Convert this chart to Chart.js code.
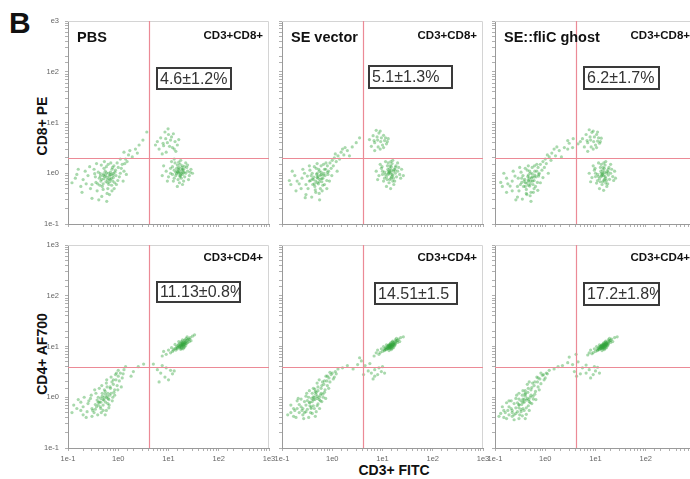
<!DOCTYPE html>
<html>
<head>
<meta charset="utf-8">
<script src="https://cdn.jsdelivr.net/npm/chart.js@4.4.1/dist/chart.umd.min.js"></script>
<style>
  html, body { margin: 0; padding: 0; background: #fff; width: 690px; height: 479px; overflow: hidden; position: relative;
    font-family: "Liberation Sans", Arial, sans-serif; }
  canvas { position: absolute; }
  .lbl { position: absolute; font-weight: bold; color: #111; white-space: nowrap; line-height: 1; }
  .rot { transform: translate(-50%, -50%) rotate(-90deg); }
  .ctr { transform: translate(-50%, -50%); }
</style>
</head>
<body>
<div class="lbl" style="left:9px;top:8px;font-size:30px;">B</div>
<div class="lbl rot" style="left:42px;top:126px;font-size:14px;">CD8+ PE</div>
<div class="lbl rot" style="left:42px;top:354px;font-size:14px;">CD4+ AF700</div>
<div class="lbl ctr" style="left:394px;top:470px;font-size:14px;">CD3+ FITC</div>

<script>
// ---- groups, gates and quadrant frequencies ----
const groupNames = ['PBS', 'SE vector', 'SE::fliC ghost'];
const cd8Quadrant = 'CD3+CD8+';
const cd4Quadrant = 'CD3+CD4+';
const cd8Pct = ['4.6±1.2%', '5.1±1.3%', '6.2±1.7%'];
const cd4Pct = ['11.13±0.8%', '14.51±1.5', '17.2±1.8%'];
const cd3Gate = 4;   // CD3 FITC threshold
const cd8Gate = 2;   // CD8 PE threshold
const cd4Gate = 4;   // CD4 AF700 threshold

// ---- log-axis decade labels ----
const decades = [0.1, 1, 10, 100, 1000];
const decadeLabels = ['1e-1', '1e0', '1e1', '1e2', '1e3'];
const cornerDecadeLabels = ['1e-1', '1e0', '1e1', '1e2', 'e3'];

// ---- events: [CD3 FITC, CD8 PE] ----
const pbsCD8 = [
  [0.6,0.83],[0.5,0.9],[0.7,0.75],[0.45,0.7],[0.8,1.0],[0.55,1.1],[0.65,0.6],[0.35,0.85],[0.9,0.9],[0.4,1.05],
  [0.75,1.2],[0.3,0.6],[0.25,0.9],[0.62,0.5],[1.0,1.3],[0.85,0.65],[0.48,0.55],[0.58,1.35],[0.2,0.75],[0.15,0.95],
  [0.38,0.45],[0.72,0.95],[0.95,1.6],[1.2,1.5],[0.52,0.78],[0.66,0.88],[0.44,0.98],[0.78,0.7],[0.33,1.2],[0.28,0.5],
  [0.6,0.4],[0.88,1.15],[1.1,1.0],[0.5,0.62],[0.42,0.8],[0.7,1.05],[0.56,0.92],[0.68,0.68],[0.8,0.82],[0.36,0.66],
  [0.12,0.65],[0.18,0.55],[0.22,1.1],[0.47,0.35],[0.75,0.45],[1.3,1.1],[0.98,0.72],[0.63,1.5],[0.52,1.25],[0.82,1.4],
  [0.14,0.8],[0.16,1.2],[0.19,0.42],[0.23,0.62],[0.27,1.35],[0.3,0.32],[0.34,0.98],[0.37,1.55],[0.41,0.3],[0.43,0.58],
  [0.46,1.45],[0.5,0.48],[0.53,1.7],[0.57,0.68],[0.59,0.28],[0.64,1.0],[0.67,0.38],[0.71,1.6],[0.74,0.58],[0.77,1.3],
  [0.83,0.5],[0.86,1.05],[0.92,0.6],[1.05,0.85],[1.15,1.25],[1.25,0.7],[1.35,1.55],[1.45,0.95],[0.61,0.74],[0.54,0.86],
  [0.69,0.93],[0.47,0.76],[0.39,0.62],[0.73,0.8],[0.58,1.02],[0.66,0.77],[0.51,0.97],[0.44,0.88],[0.79,0.92],[0.62,0.65],
  [1.4,1.9],[1.6,2.3],[1.3,2.6],[1.9,2.1],[1.1,1.9],[2.2,3.0],[1.7,2.8],[2.6,3.6],[3.1,4.5],[3.7,6.5],[2.4,2.5],[1.5,1.7],
  [17,1.05],[15,1.1],[19,0.95],[14,0.9],[20,1.2],[16,1.3],[18,0.8],[13,1.15],[22,1.0],[12,0.95],
  [17,1.5],[24,1.1],[15.5,0.75],[21,0.85],[11,1.25],[19,1.4],[16.5,0.65],[26,0.9],[10,0.85],[13.5,1.6],
  [18.5,1.15],[16,1.0],[14.5,1.25],[20,0.7],[23,1.3],[9,1.1],[28,1.2],[12.5,0.7],[17.5,1.8],[8,1.4],
  [15,0.55],[22,1.6],[11.5,1.7],[19.5,1.05],[16.8,0.9],[14,1.05],[25,0.75],[7.5,0.9],[30,1.0],[13,1.9],
  [16,1.15],[18,1.0],[17.5,0.92],[15.5,1.05],[19,1.2],[17,0.85],[14.5,0.98],[20.5,1.05],[16.2,1.22],[18.3,1.3],
  [13,0.8],[21,1.35],[15,1.45],[19,0.6],[11,1.0],[24,1.45],[12,1.35],[27,1.05],[9.5,0.7],[16,1.65],
  [9.5,4.0],[8,3.5],[11,4.5],[7,5.0],[12,3.2],[10,5.8],[6.5,3.0],[13.5,4.2],[8.5,6.5],[15,3.6],[9,2.6],[6,4.2],[11.5,5.2],[14,2.7],[7.5,2.4],
  [10.5,3.4],[8.8,4.8],[12.5,6.0],[7.8,3.9],[13,3.0],[16,4.6],[5.5,3.6],[9.8,7.5]
];
const vectorCD8 = [
  [0.5,0.83],[0.42,0.75],[0.6,0.95],[0.35,0.7],[0.55,1.1],[0.7,1.2],[0.3,0.6],[0.45,0.55],[0.65,0.8],[0.4,1.0],
  [0.25,0.8],[0.8,1.4],[0.5,0.65],[0.58,0.5],[0.38,0.9],[0.9,1.6],[0.2,0.7],[0.72,0.9],[0.48,1.25],[0.33,0.5],
  [0.62,0.68],[0.28,1.0],[0.85,1.1],[1.0,1.8],[0.55,0.4],[0.44,0.62],[0.68,1.0],[0.52,0.88],[0.4,0.78],[0.78,0.72],
  [0.15,0.6],[0.18,0.9],[0.3,0.38],[0.75,1.6],[0.95,1.25],[0.6,1.4],[0.36,1.15],[0.46,0.47],[0.24,0.5],[0.82,0.95],
  [1.1,2.0],[1.2,1.7],[0.65,0.58],[0.5,1.0],[0.57,0.76],
  [0.14,0.72],[0.16,1.1],[0.19,0.45],[0.22,0.62],[0.26,1.2],[0.29,0.33],[0.32,0.88],[0.35,1.4],[0.39,0.34],[0.41,0.6],
  [0.44,1.35],[0.47,0.42],[0.5,1.55],[0.53,0.62],[0.56,0.3],[0.6,1.05],[0.63,0.45],[0.67,1.5],[0.7,0.6],[0.74,1.2],
  [0.78,0.5],[0.8,1.05],[0.88,0.7],[0.98,0.9],[1.05,1.4],[1.25,1.1],[0.52,0.8],[0.47,0.7],[0.58,0.9],[0.43,0.84],
  [0.62,0.78],[0.55,0.68],[0.37,0.72],[0.66,0.92],[0.49,0.95],[0.54,1.2],
  [1.3,2.2],[1.5,2.6],[1.15,2.4],[1.7,2.3],[1.4,1.9],[2.0,2.8],[1.8,3.2],[2.5,3.3],[3.0,4.0],[2.2,2.2],[1.6,3.0],[3.5,5.0],
  [14.5,1.0],[13,1.1],[16,0.9],[12,0.85],[17,1.2],[15,1.35],[14,0.75],[11,1.05],[18,1.0],[10,0.95],
  [15.5,1.55],[20,1.1],[13.5,0.65],[16.5,0.8],[9.5,1.25],[12.5,1.4],[17.5,0.7],[22,0.95],[8.5,0.9],[11.5,1.7],
  [15,1.15],[13,0.95],[14,1.25],[18.5,1.4],[10.5,0.7],[19,0.85],[7.5,1.1],[24,1.2],[12,0.55],[16,1.8],
  [14.5,0.5],[9,1.5],[20,1.6],[13.8,1.05],[11,0.8],[26,0.9],[8,0.75],
  [14,1.1],[15.5,0.95],[15,0.85],[13.2,1.0],[16.5,1.1],[14.8,0.8],[12.8,1.2],[17.8,1.15],[14.2,1.4],[16,0.7],
  [11.5,0.95],[18,1.3],[13,1.6],[16.8,0.6],[10,1.1],[21,1.3],[9.8,1.35],[23,0.8],[12.4,0.75],[14.6,1.7],
  [8,4.5],[7,4.0],[9.5,5.0],[6.5,5.5],[10,3.6],[8.5,6.2],[6,3.4],[11,4.4],[7.5,7.0],[12,3.8],[9,3.0],[5.5,4.6],[10.5,5.6],[7,2.8],[13,4.8],
  [9.2,4.2],[7.8,5.2],[11.5,5.0],[6.8,4.4],[10.5,3.2],[12.5,4.2],[8.2,3.3],[9,6.8]
];
const ghostCD8 = [
  [0.46,0.73],[0.4,0.65],[0.55,0.85],[0.32,0.6],[0.5,1.0],[0.62,1.1],[0.28,0.55],[0.42,0.48],[0.6,0.72],[0.36,0.9],
  [0.22,0.7],[0.72,1.3],[0.46,0.58],[0.52,0.42],[0.34,0.8],[0.8,1.5],[0.18,0.62],[0.66,0.85],[0.44,1.15],[0.3,0.45],
  [0.57,0.6],[0.25,0.88],[0.76,1.0],[0.9,1.7],[0.5,0.36],[0.4,0.55],[0.62,0.92],[0.48,0.8],[0.38,0.7],[0.7,0.66],
  [0.14,0.55],[0.17,0.8],[0.28,0.34],[0.68,1.5],[0.86,1.15],[0.55,1.3],[0.33,1.05],[0.42,0.4],[0.22,0.45],[0.74,0.88],
  [1.0,1.9],[1.05,1.55],[0.6,0.5],[0.46,0.92],[0.52,0.7],
  [0.13,0.66],[0.15,1.0],[0.17,0.42],[0.2,0.56],[0.23,1.1],[0.26,0.3],[0.29,0.8],[0.31,1.3],[0.35,0.31],[0.37,0.55],
  [0.4,1.25],[0.43,0.38],[0.46,1.4],[0.49,0.56],[0.52,0.28],[0.55,0.98],[0.58,0.42],[0.61,1.4],[0.64,0.55],[0.68,1.1],
  [0.71,0.46],[0.74,0.95],[0.8,0.65],[0.9,0.82],[0.96,1.3],[1.15,1.0],[0.47,0.7],[0.43,0.64],[0.53,0.8],[0.39,0.76],
  [0.56,0.7],[0.5,0.62],[0.34,0.66],[0.6,0.84],[0.45,0.86],[0.49,1.1],
  [1.2,2.1],[1.35,2.5],[1.1,2.3],[1.6,2.2],[1.3,1.8],[1.9,2.8],[1.7,3.3],[2.4,3.2],[3.0,3.9],[2.1,2.1],[1.5,3.0],[3.6,4.8],[2.8,4.4],
  [14.5,0.9],[13,1.0],[16,0.8],[12,0.78],[17,1.1],[15,1.25],[14,0.68],[11,0.95],[18,0.92],[10,0.86],
  [15.5,1.45],[20,1.0],[13.5,0.6],[16.5,0.72],[9.5,1.15],[12.5,1.3],[17.5,0.62],[22,0.86],[8.5,0.82],[11.5,1.6],
  [15,1.05],[13,0.86],[14,1.15],[18.5,1.3],[10.5,0.64],[19,0.76],[7.5,1.0],[24,1.1],[12,0.5],[16,1.7],
  [14.5,0.46],[9,1.4],[20,1.5],[13.8,0.95],[11,0.72],[25,0.8],[8,0.68],
  [14,1.0],[15.5,0.86],[15,0.76],[13.2,0.9],[16.5,1.0],[14.8,0.72],[12.8,1.1],[17.8,1.05],[14.2,1.3],[16,0.64],
  [11.5,0.86],[18,1.2],[13,1.5],[16.8,0.55],[10,1.0],[21,1.2],[9.8,1.25],[23,0.72],[12.4,0.68],[14.6,1.6],
  [8,4.5],[7,4.0],[9.5,5.2],[6.5,5.8],[10,3.6],[8.5,6.4],[6,3.3],[11,4.3],[7.5,7.2],[12,3.9],[9,3.0],[5.5,4.8],[10.5,5.8],[7,2.7],[13,4.9],[4.5,3.8],[3.5,3.2],[2.8,3.0],
  [9.2,4.2],[7.8,5.2],[11.5,5.0],[6.8,4.4],[10.5,3.2],[12.5,4.2],[8.2,3.3],[9,6.8],[5,4.2],[11,6.5]
];

// ---- events: [CD3 FITC, CD4 AF700] ----
const pbsCD4 = [
  [0.5,0.9],[0.42,0.8],[0.6,1.05],[0.35,0.72],[0.55,1.3],[0.7,1.5],[0.3,0.6],[0.45,0.6],[0.65,0.9],[0.4,1.0],
  [0.25,0.75],[0.8,1.8],[0.5,0.7],[0.58,0.55],[0.38,0.88],[0.9,2.2],[0.2,0.65],[0.72,1.2],[0.48,1.2],[0.33,0.5],
  [0.62,0.75],[0.28,0.95],[0.85,1.4],[1.0,2.6],[0.55,0.45],[0.44,0.65],[0.68,1.1],[0.52,1.0],[0.4,0.8],[0.78,1.0],
  [0.15,0.6],[0.18,0.8],[0.3,0.42],[0.75,2.0],[0.95,1.7],[0.6,1.6],[0.36,1.2],[0.46,0.5],[0.24,0.52],[0.82,1.25],
  [1.1,3.0],[1.2,2.4],[0.65,0.62],[1.3,3.5],[1.0,3.4],[0.88,2.8],[0.12,0.5],[0.2,0.45],[0.58,1.9],[1.4,4.0],
  [0.13,0.7],[0.16,0.9],[0.18,0.55],[0.21,1.0],[0.23,0.4],[0.26,0.85],[0.29,1.1],[0.31,0.55],[0.34,1.4],[0.37,0.65],
  [0.39,0.45],[0.42,1.5],[0.45,0.95],[0.47,1.7],[0.5,0.55],[0.53,1.4],[0.56,0.8],[0.59,2.2],[0.62,1.2],[0.66,0.7],
  [0.69,1.6],[0.72,2.5],[0.76,0.85],[0.8,2.2],[0.85,1.1],[0.92,3.0],[0.98,1.4],[1.05,2.1],[1.15,1.6],[1.25,2.9],
  [0.45,0.8],[0.52,0.88],[0.48,1.05],[0.58,0.98],[0.4,0.7],[0.55,1.15],[0.63,0.95],[0.35,0.58],
  [2,3.2],[2.5,4.0],[3.2,4.5],[1.8,2.6],
  [19,11],[17,10],[21,12],[15,9.5],[23,13],[18,12.5],[20,9.5],[16,11],[22,10.5],[14,8.5],
  [25,14],[19,13.5],[17.5,8.8],[21.5,11.5],[13,9],[24,12],[18.5,10.2],[20.5,13],[16.5,9.8],[27,15],
  [12,8],[15.5,10.5],[22.5,14.5],[19.5,9],[11,7.5],[28,13],[17,11.5],[20,11],[18,9.2],[14.5,10],
  [9,7],[10,8.5],[7.5,6.5],[30,16],[33,17],[26,12.5],[13.5,11],[23.5,15.5],[8,8],[11.5,9.5],
  [16,12.5],[21,9.8],[19,10.5],[18,11],
  [18,10.5],[19.5,11.5],[20,10.2],[17.5,10.8],[19,12],[21,11],[18.5,11.8],[20.5,12],[17,9.5],[22,12.2],
  [16,10],[19.8,10.8],[18.2,9.8],[21.5,13.5],[15,9],[24,13.5],[23,11.5],[14,9.2],[12.5,8.5],[26,14],
  [6,3.5],[7,3.0],[8.5,2.5],[10,2.2],[9,3.8],[12,2.9],[11,3.4],[6.5,2.0],[7.5,4.2],[5,4.5],[13,3.3]
];
const vectorCD4 = [
  [0.42,0.9],[0.36,0.8],[0.5,1.05],[0.3,0.7],[0.46,1.3],[0.6,1.5],[0.26,0.6],[0.38,0.6],[0.55,0.9],[0.34,1.0],
  [0.22,0.72],[0.68,1.8],[0.42,0.68],[0.48,0.52],[0.32,0.86],[0.78,2.1],[0.18,0.55],[0.6,1.2],[0.4,1.2],[0.28,0.5],
  [0.52,0.74],[0.24,0.92],[0.72,1.4],[0.86,2.4],[0.46,0.42],[0.38,0.64],[0.58,1.1],[0.44,1.0],[0.35,0.78],[0.66,1.0],
  [0.17,0.42],[0.2,0.85],[0.27,0.38],[0.64,2.0],[0.8,1.7],[0.52,1.6],[0.31,1.2],[0.4,0.48],[0.22,0.5],[0.7,1.25],
  [0.95,2.8],[1.05,2.3],[0.56,0.6],[1.15,3.2],[0.9,3.1],[0.75,2.6],[0.15,0.5],[0.34,0.4],[0.5,1.9],[1.3,3.6],
  [0.62,0.82],[0.45,1.45],
  [0.13,0.45],[0.15,0.7],[0.17,0.6],[0.19,0.4],[0.21,0.95],[0.24,0.65],[0.26,0.45],[0.28,0.82],[0.3,1.05],[0.32,0.58],
  [0.35,1.35],[0.37,0.5],[0.39,0.95],[0.42,1.5],[0.44,0.6],[0.47,1.15],[0.5,0.68],[0.52,1.35],[0.55,2.2],[0.58,0.85],
  [0.62,1.7],[0.65,1.15],[0.7,2.1],[0.74,0.95],[0.8,2.6],[0.85,1.5],[0.9,2.0],[1.0,3.0],[1.1,2.5],[1.2,2.9],
  [0.4,0.82],[0.45,0.9],[0.42,1.02],[0.5,0.95],[0.36,0.68],[0.48,1.25],[0.55,1.0],[0.3,0.52],[0.25,0.55],[0.2,0.6],
  [1.6,3.8],[2.0,4.2],[2.6,3.6],[3.2,4.4],[3.8,5.2],[4.5,4.2],[5.2,3.3],[4.2,2.8],[6,3.0],[5.6,4.6],[3.5,6.0],[7,2.6],
  [14.5,10],[13,9.2],[16,11],[12,8.7],[17,11.8],[14,11],[15.5,9.2],[12.5,10],[17.5,10.3],[11,8.3],
  [19,13],[14.8,12],[13.5,8.3],[16.5,10.5],[10,8],[18,11.5],[14.2,9.6],[15.8,12.2],[12.8,9.5],[21,14],
  [9,7.6],[11.8,9.6],[18,13.5],[15,8.7],[8.5,7],[22,12.5],[13.3,10.6],[15.2,10.3],[14,9],[11.2,9.2],
  [7.5,7.5],[8,8.5],[6.8,6.5],[23,15],[26,15.5],[20,12],[10.5,10],[19,14.5],[9.5,9],[12,10.8],
  [16,12.8],[16.5,9.5],[14.6,10.8],[13.7,9.9],[15,10.5],[14,10.2],[13,10.4],[16,10],
  [14.2,10.4],[15.2,10.8],[13.8,9.5],[14.8,9.8],[15.6,11.2],[13.4,10],[16.2,10.9],[14.4,11.4],[12.9,9.1],[17,11.2],
  [13.9,10.6],[15.8,10.2],[14.7,9.3],[16.8,12],[12.2,9.2],[18.5,12.5],[17.8,11],[11.5,8.8],[10.8,8.6],[20,13.2],
  [7,3.5],[8,2.8],[9.5,3.2],[6.5,2.3],[10,4.0],[8.5,3.8],[11,3.0]
];
const ghostCD4 = [
  [0.36,0.8],[0.3,0.7],[0.44,0.95],[0.26,0.62],[0.4,1.2],[0.52,1.4],[0.22,0.55],[0.33,0.52],[0.48,0.82],[0.3,0.92],
  [0.19,0.65],[0.6,1.7],[0.36,0.6],[0.42,0.46],[0.28,0.78],[0.7,2.0],[0.16,0.5],[0.52,1.1],[0.35,1.1],[0.24,0.45],
  [0.46,0.68],[0.21,0.85],[0.64,1.3],[0.78,2.3],[0.4,0.38],[0.33,0.57],[0.5,1.0],[0.38,0.9],[0.3,0.72],[0.58,0.92],
  [0.15,0.4],[0.17,0.78],[0.24,0.36],[0.56,1.9],[0.72,1.6],[0.46,1.5],[0.27,1.1],[0.35,0.43],[0.19,0.45],[0.62,1.15],
  [0.88,2.7],[0.95,2.2],[0.48,0.55],[1.05,3.0],[0.82,3.0],[0.68,2.5],[0.13,0.48],[0.3,0.38],[0.44,1.8],[1.2,3.4],
  [0.54,0.75],[0.4,1.35],[1.5,3.6],[1.8,4.0],
  [0.12,0.42],[0.14,0.65],[0.15,0.55],[0.17,0.38],[0.19,0.85],[0.21,0.6],[0.22,0.42],[0.24,0.75],[0.26,0.95],[0.28,0.52],
  [0.3,1.2],[0.31,0.45],[0.33,0.85],[0.36,1.35],[0.38,0.55],[0.4,1.05],[0.42,0.62],[0.45,1.25],[0.48,2.0],[0.5,0.78],
  [0.54,1.55],[0.57,1.05],[0.62,2.0],[0.65,0.9],[0.72,2.4],[0.76,1.4],[0.82,1.85],[0.92,2.8],[1.0,2.4],[1.1,2.9],
  [0.34,0.72],[0.38,0.8],[0.36,0.92],[0.42,0.88],[0.3,0.62],[0.4,1.15],[0.47,0.9],[0.26,0.48],[0.22,0.5],[0.18,0.55],
  [2.2,4.2],[2.8,4.8],[3.5,4.4],[3.8,3.2],[4.2,2.6],[4.5,5.0],[5.5,3.8],[6.5,4.3],[3.0,6.2],[5,2.9],[4.1,7.0],
  [14.5,10],[13,9.2],[16,11],[12,8.7],[17,11.8],[14,11],[15.5,9.2],[12.5,10],[17.5,10.3],[11,8.3],
  [19,13],[14.8,12],[13.5,8.3],[16.5,10.5],[10,8],[18,11.5],[14.2,9.6],[15.8,12.2],[12.8,9.5],[21,14],
  [9,7.6],[11.8,9.6],[18,13.5],[15,8.7],[8.5,7.2],[22,12.5],[13.3,10.6],[15.2,10.3],[14,9],[11.2,9.2],
  [7.5,7.5],[8,8.5],[7,6.8],[24,15],[27,15.5],[20,12],[10.5,10],[19,14.5],[9.5,9],[12,10.8],
  [16,12.8],[16.5,9.5],[14.6,10.8],[13.7,9.9],[15,10.5],[14,10.2],[13,10.4],[16,10],[12.2,9.9],[15.4,11.4],
  [14.2,10.4],[15.2,10.8],[13.8,9.5],[14.8,9.8],[15.6,11.2],[13.4,10],[16.2,10.9],[14.4,11.4],[12.9,9.1],[17,11.2],
  [13.9,10.6],[15.8,10.2],[14.7,9.3],[16.8,12],[12.2,9.2],[18.5,12.5],[17.8,11],[11.5,8.8],[10.8,8.6],[20,13.2],[13.1,9.8],[16.4,11.6],
  [7.5,3.5],[9,2.8],[10,3.3],[8,2.4],[11,3.9],[9.5,4.0],[12,3.0],[6.5,3.0]
];

// ---- page layout (pixels) ----
const colLeft = [68, 282, 495];
const rowTop = [21, 245];
const plotW = 201, plotH = 203;
const padL = 45, padT = 8, padR = 10, padB = 24;
// frequency box placement inside each plot: [dx, dy, w, h]
const boxPlace = [
  [[89, 47, 74, 21], [87, 45, 83, 22], [89, 46, 75, 22]],
  [[89, 37, 83, 20], [93, 38, 82, 21], [89, 38, 75, 22]]
];

function labelFor(list) {
  return function (v) {
    const i = decades.findIndex(d => Math.abs(Math.log10(v) - Math.log10(d)) < 1e-6);
    return i >= 0 ? list[i] : '';
  };
}

const panelDecor = {
  id: 'panelDecor',
  afterDatasetsDraw(chart, args, o) {
    const { ctx, chartArea: a, scales: { x, y } } = chart;
    ctx.save();
    ctx.globalAlpha = 1;
    // light frame on top and right
    ctx.strokeStyle = '#d4d4d4';
    ctx.lineWidth = 1;
    ctx.beginPath();
    ctx.moveTo(a.left, a.top + 0.5);
    ctx.lineTo(a.right - 0.5, a.top + 0.5);
    ctx.lineTo(a.right - 0.5, a.bottom);
    ctx.stroke();
    // quadrant gates
    const gx = Math.round(x.getPixelForValue(o.xGate)) + 0.5;
    const gy = Math.round(y.getPixelForValue(o.yGate)) + 0.5;
    ctx.strokeStyle = '#ec8a96';
    ctx.lineWidth = 1.2;
    ctx.beginPath();
    ctx.moveTo(gx, a.top); ctx.lineTo(gx, a.bottom);
    ctx.moveTo(a.left, gy); ctx.lineTo(a.right, gy);
    ctx.stroke();
    // group name
    ctx.fillStyle = '#111';
    if (o.title) {
      ctx.font = 'bold 14.5px "Liberation Sans", Arial, sans-serif';
      ctx.textAlign = 'left';
      ctx.textBaseline = 'alphabetic';
      ctx.fillText(o.title, a.left + 9, a.top + 21);
    }
    // quadrant name
    ctx.font = 'bold 11.5px "Liberation Sans", Arial, sans-serif';
    ctx.textAlign = 'right';
    ctx.textBaseline = 'alphabetic';
    ctx.fillText(o.quadrant, a.right - 6, a.top + o.quadY);
    // frequency box
    const [dx, dy, w, h] = o.box;
    const bx = a.left + dx, by = a.top + dy;
    ctx.save();
    ctx.beginPath();
    ctx.rect(bx + 1, by + 1, w - 2, h - 2);
    ctx.clip();
    ctx.font = '16px "Liberation Sans", Arial, sans-serif';
    ctx.fillStyle = '#333';
    ctx.textAlign = 'left';
    ctx.textBaseline = 'middle';
    ctx.fillText(o.pct, bx + 3, by + h / 2 + 1);
    ctx.restore();
    ctx.strokeStyle = '#3a3a3a';
    ctx.lineWidth = 2;
    ctx.strokeRect(bx, by, w, h);
    ctx.restore();
  }
};

function makePanel(row, col, points, pct, gateY) {
  const cv = document.createElement('canvas');
  const W = padL + plotW + padR, H = padT + plotH + padB;
  cv.width = W; cv.height = H;
  cv.style.left = (colLeft[col] - padL) + 'px';
  cv.style.top = (rowTop[row] - padT) + 'px';
  cv.style.width = W + 'px'; cv.style.height = H + 'px';
  document.body.appendChild(cv);

  const showX = row === 1;
  const showY = col === 0;
  const yLabels = (row === 0 && col === 0) ? cornerDecadeLabels : decadeLabels;

  new Chart(cv, {
    type: 'scatter',
    data: {
      datasets: [{
        data: points.map(p => ({ x: p[0], y: p[1] })),
        pointRadius: 1.6,
        pointBackgroundColor: 'rgba(50,165,60,0.42)',
        pointBorderWidth: 0,
        pointHoverRadius: 1.6
      }]
    },
    options: {
      responsive: false,
      animation: false,
      devicePixelRatio: 1,
      events: [],
      layout: { padding: { left: 0, top: padT, right: padR, bottom: 0 } },
      plugins: {
        legend: { display: false },
        tooltip: { enabled: false },
        panelDecor: {
          xGate: cd3Gate,
          yGate: gateY,
          title: row === 0 ? groupNames[col] : '',
          quadrant: row === 0 ? cd8Quadrant : cd4Quadrant,
          quadY: row === 0 ? 18 : 16,
          pct: pct,
          box: boxPlace[row][col]
        }
      },
      scales: {
        x: {
          type: 'logarithmic', min: 0.1, max: 1000,
          afterFit(s) { s.height = padB; s.paddingLeft = 0; s.paddingRight = 0; },
          ticks: {
            display: showX, autoSkip: false, maxRotation: 0, minRotation: 0,
            font: { size: 7.5, family: '"Liberation Sans", Arial, sans-serif' }, color: '#666', padding: 3,
            callback: labelFor(decadeLabels)
          },
          grid: { drawOnChartArea: false, drawTicks: true, tickLength: 3, color: '#b0b0b0' },
          border: { display: true, color: '#9a9a9a' }
        },
        y: {
          type: 'logarithmic', min: 0.1, max: 1000,
          afterFit(s) { s.width = padL; s.paddingTop = 0; s.paddingBottom = 0; },
          ticks: {
            display: showY, autoSkip: false,
            font: { size: 7.5, family: '"Liberation Sans", Arial, sans-serif' }, color: '#666', padding: 6,
            callback: labelFor(yLabels)
          },
          grid: { drawOnChartArea: false, drawTicks: true, tickLength: 3, color: '#b0b0b0' },
          border: { display: true, color: '#9a9a9a' }
        }
      }
    },
    plugins: [panelDecor]
  });
}

const cd8Sets = [pbsCD8, vectorCD8, ghostCD8];
const cd4Sets = [pbsCD4, vectorCD4, ghostCD4];
for (let c = 0; c < 3; c++) {
  makePanel(0, c, cd8Sets[c], cd8Pct[c], cd8Gate);
  makePanel(1, c, cd4Sets[c], cd4Pct[c], cd4Gate);
}
</script>
</body>
</html>
